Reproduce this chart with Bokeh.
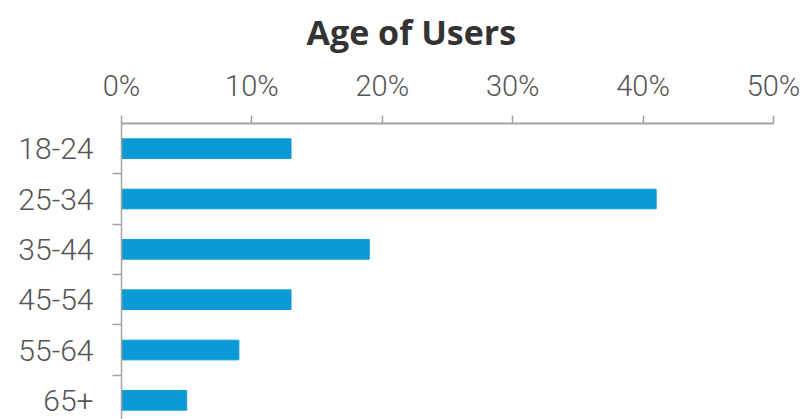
from bokeh.plotting import figure
from bokeh.models import Range1d, FixedTicker, PrintfTickFormatter, Title
from bokeh.embed import file_html
from bokeh.resources import INLINE

categories = ["18-24", "25-34", "35-44", "45-54", "55-64", "65+"]
shares = [13, 41, 19, 13, 9, 5]
x_ticks = [0, 10, 20, 30, 40, 50]

ypos = list(range(len(categories)))

p = figure(width=804, height=419, output_backend="svg", toolbar_location=None,
           x_range=Range1d(0, 50), y_range=Range1d(5.38, -0.5),
           x_axis_location="above", min_border_left=121, min_border_right=31,
           min_border_top=122, min_border_bottom=0)
p.title = Title(text="Age of Users", align="left", offset=185, vertical_align="top",
                text_font="Open Sans", text_font_size="34px", text_font_style="bold",
                text_color="#333333", standoff=17)

p.hbar(y=ypos, right=shares, left=0, height=0.39, color="#0a9bd7")

p.outline_line_color = None
p.xgrid.grid_line_color = None
p.ygrid.grid_line_color = None
p.background_fill_color = "white"
p.border_fill_color = "white"

axcol = "#a8a29c"
xa = p.xaxis[0]
xa.ticker = FixedTicker(ticks=x_ticks)
xa.formatter = PrintfTickFormatter(format="%d%%")
xa.axis_line_color = axcol
xa.axis_line_width = 2
xa.major_tick_line_color = axcol
xa.major_tick_line_width = 1.5
xa.major_tick_out = 8
xa.major_tick_in = 0
xa.minor_tick_line_color = None
xa.major_label_standoff = 13
xa.major_label_text_font = "Roboto Light"
xa.major_label_text_font_size = "29px"
xa.major_label_text_color = "#555555"

ya = p.yaxis[0]
ya.ticker = FixedTicker(ticks=ypos, minor_ticks=[i + 0.5 for i in ypos])
ya.major_label_overrides = {i: c for i, c in zip(ypos, categories)}
ya.axis_line_color = axcol
ya.axis_line_width = 1.5
ya.major_tick_line_color = None
ya.major_tick_out = 0
ya.major_tick_in = 0
ya.minor_tick_line_color = axcol
ya.minor_tick_line_width = 1.5
ya.minor_tick_out = 9
ya.minor_tick_in = 0
ya.major_label_standoff = 19
ya.major_label_text_font = "Roboto Light"
ya.major_label_text_font_size = "30px"
ya.major_label_text_color = "#555555"

open("out.html", "w").write(file_html(p, INLINE))
